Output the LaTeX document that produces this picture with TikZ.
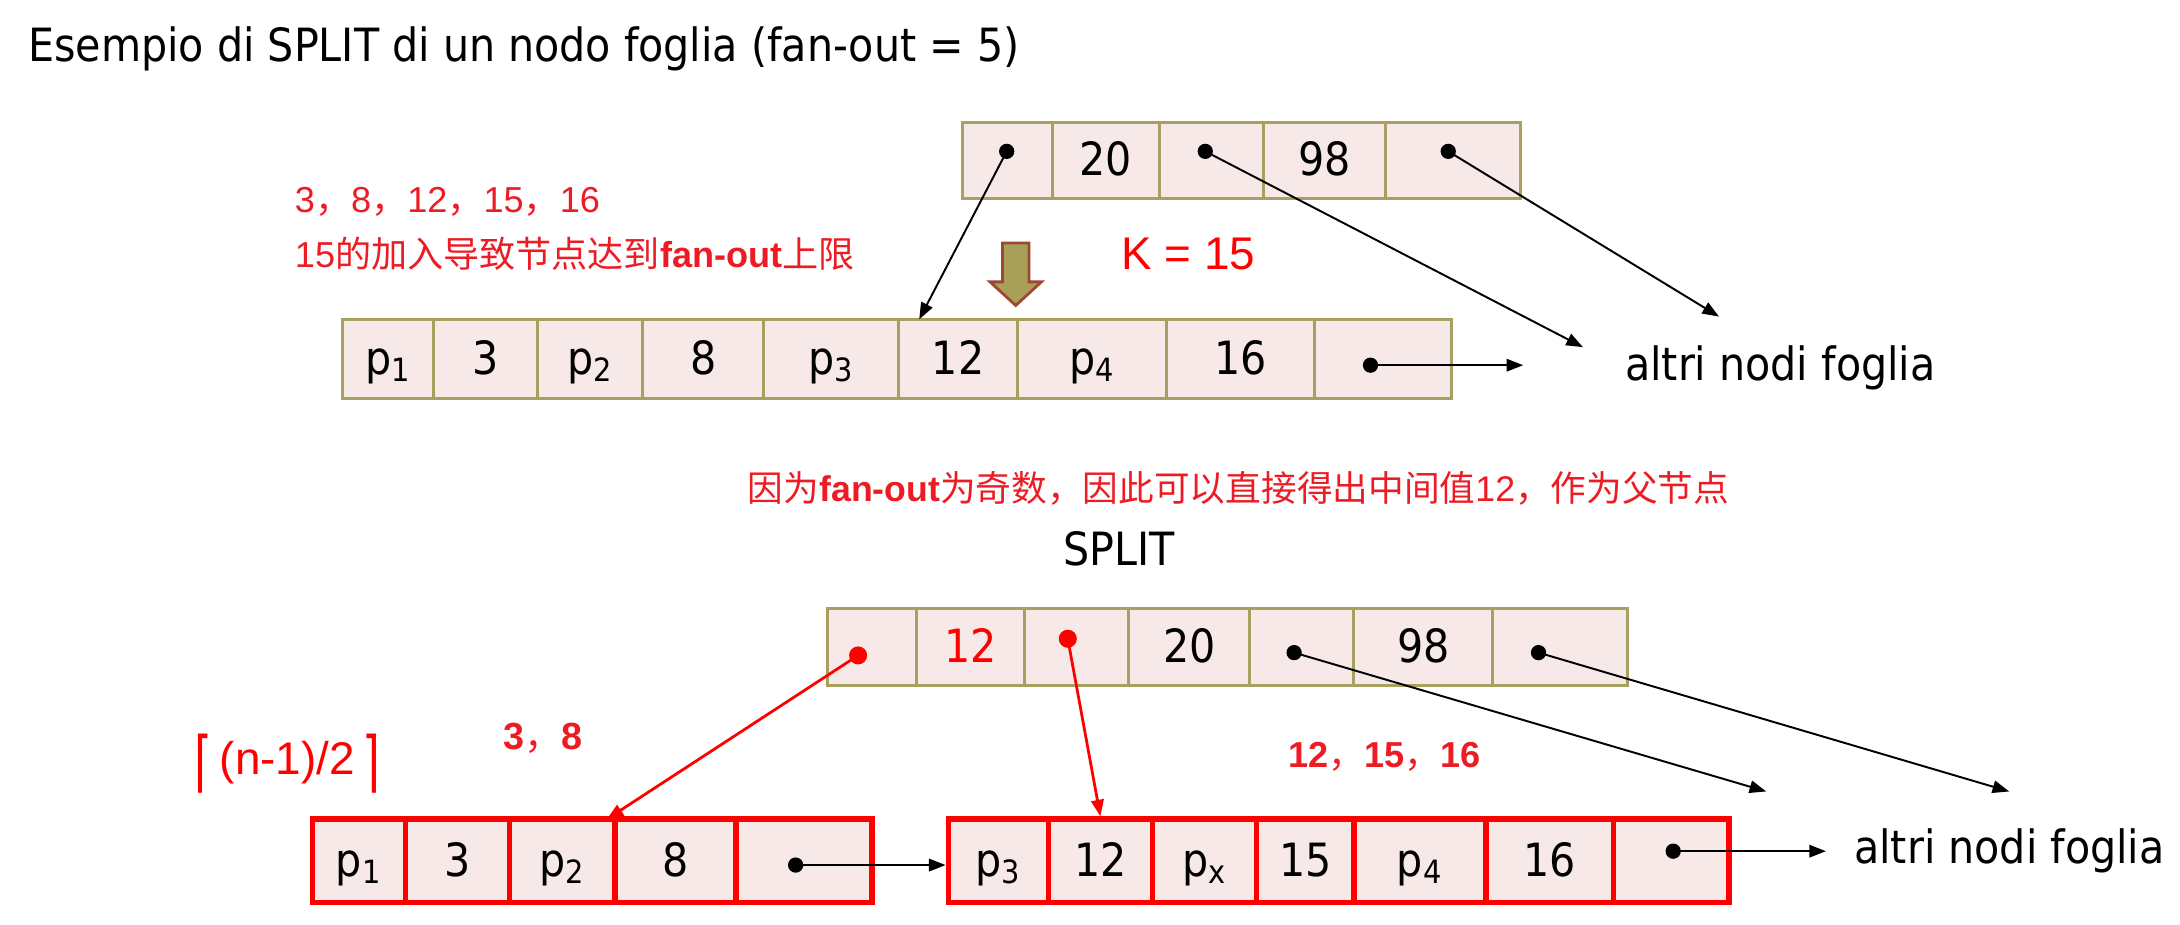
\documentclass[tikz,border=0pt]{standalone}
\usepackage{fontspec}
\usepackage{graphicx}
\setmainfont{DejaVu Sans Condensed}
\newfontfamily\arial{Liberation Sans}
\newfontfamily\cjk{Noto Sans CJK SC}
\newfontfamily\dejavu{DejaVu Sans}
\usetikzlibrary{arrows.meta}
\definecolor{olivebd}{RGB}{168,160,96}
\definecolor{pinkfill}{RGB}{248,233,233}
\definecolor{txtred}{RGB}{237,28,36}
\definecolor{arrowfill}{RGB}{168,160,88}
\definecolor{arrowbd}{RGB}{158,72,52}
\newcommand\ps[1]{p\textsubscript{#1}}
\newcommand\tallbr[1]{\raisebox{-0.22em}{\scalebox{1}[1.45]{\dejavu #1}}}
\newcommand\mycell[7]{%
  \pgfmathsetmacro\mcx{(#3+#4)/2}%
  \pgfmathsetmacro\mcy{(#5+#6)/2}%
  \pgfmathsetmacro\mcw{(#4-#3)*0.5}%
  \pgfmathsetmacro\mch{(#6-#5)*0.5}%
  \node[#1, minimum width=\mcw pt, minimum height=\mch pt] (#2) at (\mcx,\mcy) {#7};}
\begin{document}
\begin{tikzpicture}[x=0.5pt,y=-0.5pt,
  cell/.style={draw=olivebd, line width=1.1pt, fill=pinkfill, inner sep=0pt,
    font=\fontsize{16.5}{18}\selectfont, text height=12pt, text depth=1pt},
  redcell/.style={cell, draw=red, line width=2pt},
  dot/.style={circle, fill=black, inner sep=0pt, minimum size=5.5pt},
  rdot/.style={dot, fill=red, minimum size=6.5pt},
  arr/.style={-{Triangle[length=6pt,width=4.5pt]}, line width=0.7pt},
  rarr/.style={arr, red, line width=1pt},
  redtxt/.style={text=txtred, inner sep=0pt, font=\fontsize{13}{15}\selectfont},
  blk/.style={inner sep=0pt, font=\fontsize{16.5}{18}\selectfont}]
\useasboundingbox (0,0) rectangle (1570,665.5);

% title
\node[inner sep=0pt, anchor=west, font=\fontsize{16.5}{18}\selectfont] (title) at (20,35)
  {Esempio di SPLIT di un nodo foglia (fan-out = 5)};

% top parent node
\mycell{cell}{a1}{693}{758}{88}{143}{}
\mycell{cell}{a2}{758}{835}{88}{143}{20}
\mycell{cell}{a3}{835}{910}{88}{143}{}
\mycell{cell}{a4}{910}{998}{88}{143}{98}
\mycell{cell}{a5}{998}{1095}{88}{143}{}
\node[dot] (da1) at (725,109) {};
\node[dot] (da3) at (868,109) {};
\node[dot] (da5) at (1043,109) {};

% red notes
\node[redtxt, anchor=west] (n1) at (212,145) {\arial 3\cjk ，\arial 8\cjk ，\arial 12\cjk ，\arial 15\cjk ，\arial 16};
\node[redtxt, anchor=west] (n2) at (212,183) {\arial 15\cjk 的加入导致节点达到{\arial\bfseries fan-out}上限};
\node[inner sep=0pt, text=red, font=\arial\fontsize{16.5}{18}\selectfont] (k) at (856,183) {K = 15};

% olive down arrow
\draw[fill=arrowfill, draw=arrowbd, line width=1pt, line join=miter]
  (722,175) -- (741,175) -- (741,203) -- (750,203) -- (731.5,220) -- (713,203) -- (722,203) -- cycle;

% leaf node
\mycell{cell}{b1}{247}{312}{230}{287}{\ps{1}}
\mycell{cell}{b2}{312}{387}{230}{287}{3}
\mycell{cell}{b3}{387}{463}{230}{287}{\ps{2}}
\mycell{cell}{b4}{463}{550}{230}{287}{8}
\mycell{cell}{b5}{550}{647}{230}{287}{\ps{3}}
\mycell{cell}{b6}{647}{733}{230}{287}{12}
\mycell{cell}{b7}{733}{840}{230}{287}{\ps{4}}
\mycell{cell}{b8}{840}{947}{230}{287}{16}
\mycell{cell}{b9}{947}{1045}{230}{287}{}
\node[dot] (db9) at (987,263) {};
\coordinate (tb9) at (1097,263);
\node[blk, anchor=west] (alt1) at (1170,265) {altri nodi foglia};
\coordinate (t1) at (662,230);
\coordinate (t3) at (1140,250);
\coordinate (t5) at (1238,228);
\draw[arr] (da1.center) -- (t1);
\draw[arr] (da3.center) -- (t3);
\draw[arr] (da5.center) -- (t5);
\draw[arr] (db9.center) -- (tb9);

% explanation
\node[redtxt, font=\fontsize{12.85}{15}\selectfont] (n3) at (892,352) {\cjk 因为{\arial\bfseries fan-out}为奇数，因此可以直接得出中间值{\arial 12}，作为父节点};
\node[blk] (split) at (806,395) {SPLIT};

% new parent node
\mycell{cell}{c1}{596}{660}{438}{494}{}
\mycell{cell}{c2}{660}{738}{438}{494}{\color{red}12}
\mycell{cell}{c3}{738}{813}{438}{494}{}
\mycell{cell}{c4}{813}{900}{438}{494}{20}
\mycell{cell}{c5}{900}{975}{438}{494}{}
\mycell{cell}{c6}{975}{1075}{438}{494}{98}
\mycell{cell}{c7}{1075}{1172}{438}{494}{}
\node[rdot] (dc1) at (618,472) {};
\node[rdot] (dc3) at (769,460) {};
\node[dot] (dc5) at (932,470) {};
\node[dot] (dc7) at (1108,470) {};

% annotations
\node[redtxt, font=\arial\bfseries\fontsize{13.6}{15}\selectfont] (n4) at (391,532) {3{\cjk\mdseries ，}8};
\node[redtxt, font=\arial\bfseries\fontsize{13}{15}\selectfont] (n5) at (997,545) {12{\cjk\mdseries ，}15{\cjk\mdseries ，}16};
\node[inner sep=0pt, text=red, font=\fontsize{16.5}{18}\selectfont] (n6) at (207,550) {\tallbr{⌈}\,{\arial (n-1)/2}\,\tallbr{⌉}};

% new leaves
\mycell{redcell}{e1}{225}{292}{590}{650}{\ps{1}}
\mycell{redcell}{e2}{292}{367}{590}{650}{3}
\mycell{redcell}{e3}{367}{443}{590}{650}{\ps{2}}
\mycell{redcell}{e4}{443}{530}{590}{650}{8}
\mycell{redcell}{e5}{530}{628}{590}{650}{}
\mycell{redcell}{f1}{683}{755}{590}{650}{\ps{3}}
\mycell{redcell}{f2}{755}{830}{590}{650}{12}
\mycell{redcell}{f3}{830}{905}{590}{650}{\ps{x}}
\mycell{redcell}{f4}{905}{975}{590}{650}{15}
\mycell{redcell}{f5}{975}{1070}{590}{650}{\ps{4}}
\mycell{redcell}{f6}{1070}{1162}{590}{650}{16}
\mycell{redcell}{f7}{1162}{1245}{590}{650}{}
\node[dot] (de5) at (573,623) {};
\node[dot] (df7) at (1205,613) {};
\coordinate (tf7) at (1315,613);
\node[blk, anchor=west] (alt2) at (1335,613) {altri nodi foglia};
\coordinate (te3) at (437,590);
\coordinate (tc5) at (1272,570);
\coordinate (tc7) at (1447,570);
\draw[arr] (de5.center) -- (de5.center -| f1.west);
\draw[arr] (df7.center) -- (tf7);
\draw[rarr] (dc1.center) -- (te3);
\draw[rarr] (dc3.center) -- (f2.north);
\draw[arr] (dc5.center) -- (tc5);
\draw[arr] (dc7.center) -- (tc7);
\end{tikzpicture}
\end{document}
